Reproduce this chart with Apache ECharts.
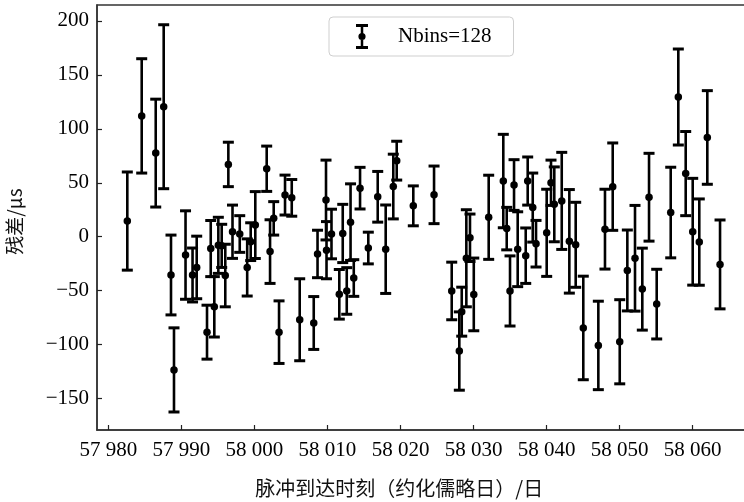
<!DOCTYPE html>
<html>
<head>
<meta charset="utf-8">
<script src="https://cdn.jsdelivr.net/npm/echarts@6/dist/echarts.min.js"></script>
<style>
  html, body { margin: 0; padding: 0; background: #fff; }
  #chart { width: 744px; height: 502px; }
</style>
</head>
<body>
<div id="chart"></div>
<script>
// Timing residuals per TOA (MJD), residual in microseconds, 1-sigma error
const mjd = [
  57982.60, 57984.57, 57986.49, 57987.58, 57988.58, 57988.99, 57990.57, 57991.53,
  57992.10, 57993.51, 57994.02, 57994.51, 57995.06, 57995.52, 57996.01, 57996.43,
  57997.00, 57997.99, 57999.01, 57999.49, 58000.12, 58001.68, 58002.14, 58002.64,
  58003.37, 58004.19, 58005.11, 58006.20, 58008.12, 58008.64, 58009.80, 58009.87,
  58010.55, 58011.62, 58012.09, 58012.64, 58013.16, 58013.60, 58014.46, 58015.59,
  58016.88, 58017.97, 58019.01, 58019.48, 58021.75, 58024.59, 58027.01, 58028.05,
  58028.38, 58029.01, 58029.51, 58030.03, 58032.07, 58034.07, 58034.54, 58034.99,
  58035.54, 58036.04, 58037.14, 58037.41, 58038.10, 58038.55, 58040.01, 58040.60,
  58041.05, 58042.07, 58043.11, 58043.98, 58045.02, 58047.08, 58047.99, 58049.05,
  58050.01, 58051.05, 58052.10, 58053.10, 58054.02, 58055.07, 58056.99, 58058.03,
  58059.04, 58060.00, 58060.90, 58062.00, 58063.74
];
const resid = [
   14.5, 112.0,  77.5, 120.5, -35.5, -123.5, -17.0, -35.5,
  -28.5, -88.5, -11.0, -65.0,  -8.0,  -8.5, -36.0,  67.0,
    4.6,   2.5, -28.5,  -4.6,  10.8,  63.0, -13.8,  17.0,
  -88.5,  38.6,  36.0, -77.0, -80.0, -16.0,  34.0, -12.5,
    2.5, -53.4,   3.0, -50.3,  13.5, -38.3,  45.0, -10.5,
   37.0, -11.6,  46.5,  70.5,  28.6,  38.8, -50.3, -106.0,
  -69.5, -20.0,  -1.0, -53.5,  18.0,  51.6,   7.5, -50.3,
   47.9, -11.6, -17.6,  51.6,  27.0,  -6.5,   3.6,  50.0,
   30.0,  33.2,  -4.3,  -7.5, -84.6, -100.8,   7.0,  46.4,
  -97.4, -31.3, -20.0, -48.6,  36.6, -62.5,  22.4, 129.5,
   58.5,   4.6,  -5.0,  92.0, -25.7
];
const err = [
  45.5, 53.0, 50.0, 76.0, 37.0, 39.0, 41.0, 25.0,
  29.0, 25.0, 26.0, 28.0, 26.0, 20.0, 29.0, 20.6,
  24.7, 17.0, 26.5, 17.5, 31.0, 21.0, 29.5, 15.5,
  29.0, 18.5, 17.0, 38.0, 24.5, 22.0, 37.0, 26.5,
  23.0, 23.0, 27.0, 21.6, 35.5, 17.0, 19.3, 14.7,
  23.5, 41.0, 30.0, 18.0, 18.5, 26.7, 26.7, 36.3,
  22.7, 45.0, 22.0, 33.7, 39.0, 43.3, 19.7, 32.5,
  23.5, 34.7, 25.7, 22.3, 32.0, 21.6, 40.4, 21.0,
  34.7, 45.0, 48.0, 39.4, 48.0, 41.0, 37.0, 40.5,
  39.0, 37.5, 49.0, 38.0, 40.7, 32.3, 42.0, 44.5,
  39.0, 49.5, 40.0, 43.4, 41.2
];

const xTicks = [57980, 57990, 58000, 58010, 58020, 58030, 58040, 58050, 58060];
const yTicks = [-150, -100, -50, 0, 50, 100, 150, 200];

const seriesName = 'Nbins=128';
const xTitle = '脉冲到达时刻（约化儒略日）/日';
const yTitle = '残差/μs';

const serif = '"Liberation Serif", "DejaVu Serif", serif';
const cjk = '"Noto Sans CJK SC", "Noto Sans", sans-serif';

const errData = mjd.map((m, i) => [m, resid[i], err[i]]);
const dotData = mjd.map((m, i) => [m, resid[i]]);

// error bar glyph for the legend: caps, stem and a dot (12 x 25 box)
const errIcon = 'path://M0,0 H12 V3 H0 Z M4.75,0 H7.25 V25 H4.75 Z M0,22 H12 V25 H0 Z ' +
  'M2.4,12.5 A3.6,3.6 0 1,1 9.6,12.5 A3.6,3.6 0 1,1 2.4,12.5 Z';

const chart = echarts.init(document.getElementById('chart'), null, { renderer: 'canvas' });

chart.setOption({
  animation: false,
  backgroundColor: '#fff',
  grid: {
    left: 97, top: 5, width: 650.5, height: 425,
    outerBoundsMode: 'none',
    containLabel: false,
    show: true, borderColor: '#333', borderWidth: 1.5, backgroundColor: 'transparent'
  },
  legend: {
    left: 329, top: 17,
    orient: 'horizontal',
    padding: [7, 22, 7, 27],
    borderColor: '#cfcfcf', borderWidth: 1, borderRadius: 4,
    backgroundColor: '#fff',
    itemWidth: 12, itemHeight: 25,
    data: [{ name: seriesName, icon: errIcon, itemStyle: { color: '#000' } }],
    textStyle: { fontFamily: serif, fontSize: 21, color: '#000', padding: [0, 0, 0, 25] },
    selectedMode: false
  },
  xAxis: {
    type: 'value',
    min: 57978.45, max: 58067.5,
    name: xTitle,
    nameLocation: 'middle',
    nameGap: 48,
    nameTextStyle: { fontFamily: cjk, fontSize: 20, color: '#111', padding: [0, 46, 0, 0] },
    axisLine: { show: true, onZero: false, lineStyle: { color: '#333', width: 1.5 } },
    axisTick: { show: true, inside: true, length: 5, customValues: xTicks, lineStyle: { color: '#222', width: 1.2 } },
    axisLabel: {
      customValues: xTicks,
      margin: 10,
      fontFamily: serif, fontSize: 21, color: '#000',
      formatter: v => { const s = String(Math.round(v)); return s.slice(0, 2) + ' ' + s.slice(2); }
    },
    splitLine: { show: false }
  },
  yAxis: {
    type: 'value',
    min: -179.2, max: 214.8,
    name: yTitle,
    nameLocation: 'middle',
    nameGap: 73,
    nameRotate: 90,
    nameTextStyle: { fontFamily: cjk, fontSize: 19, color: '#111', padding: [0, 8, 0, 0] },
    axisLine: { show: true, onZero: false, lineStyle: { color: '#333', width: 1.5 } },
    axisTick: { show: true, inside: true, length: 5, customValues: yTicks, lineStyle: { color: '#222', width: 1.2 } },
    axisLabel: {
      customValues: yTicks,
      margin: 8,
      fontFamily: serif, fontSize: 21, color: '#000',
      formatter: v => String(Math.round(v)).replace('-', '\u2212')
    },
    splitLine: { show: false }
  },
  series: [
    {
      name: seriesName,
      type: 'custom',
      data: errData,
      encode: { x: 0, y: 1 },
      itemStyle: { color: '#000' },
      renderItem: (params, api) => {
        const x = api.value(0), y = api.value(1), e = api.value(2);
        const hi = api.coord([x, y + e]);
        const lo = api.coord([x, y - e]);
        const hw = 5.5;
        const stroke = '#000';
        return {
          type: 'group',
          children: [
            { type: 'line', shape: { x1: hi[0], y1: hi[1], x2: lo[0], y2: lo[1] }, style: { stroke, lineWidth: 2.6 } },
            { type: 'line', shape: { x1: hi[0] - hw, y1: hi[1], x2: hi[0] + hw, y2: hi[1] }, style: { stroke, lineWidth: 3 } },
            { type: 'line', shape: { x1: lo[0] - hw, y1: lo[1], x2: lo[0] + hw, y2: lo[1] }, style: { stroke, lineWidth: 3 } }
          ]
        };
      },
      z: 2
    },
    {
      name: 'dots',
      type: 'scatter',
      data: dotData,
      symbol: 'circle',
      symbolSize: 7.5,
      itemStyle: { color: '#000', opacity: 1 },
      z: 3
    }
  ]
});
</script>
</body>
</html>
